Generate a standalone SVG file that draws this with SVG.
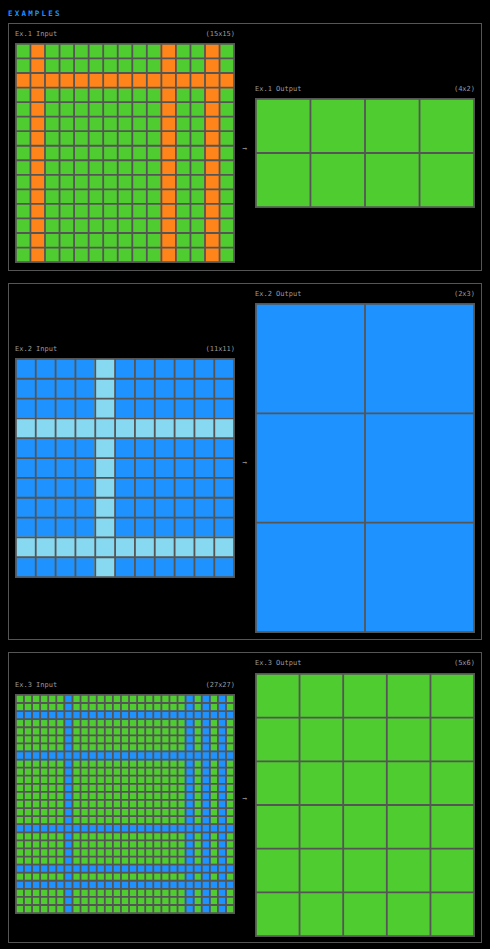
<svg xmlns="http://www.w3.org/2000/svg" width="490" height="949" viewBox="0 0 490 949">
<style>
.panel{fill:none;stroke:#555;stroke-width:1}
.lbl{font-family:"DejaVu Sans Mono","Liberation Mono",monospace;font-size:7px;fill:#9a9a9a}
.r{text-anchor:end}
.title{font-family:"DejaVu Sans Mono","Liberation Mono",monospace;font-size:7.5px;font-weight:bold;fill:#1E93FF;letter-spacing:2.2px}
.arrow{font-family:"DejaVu Sans Mono","Liberation Mono",monospace;font-size:8px;fill:#999;text-anchor:middle}
.gl{stroke:#555;fill:none}
.G{fill:#4FCC30}.O{fill:#FF851B}.B{fill:#1E93FF}.L{fill:#87D8F1}
</style>
<rect width="490" height="949" fill="#000"/>
<text class="title" x="8" y="15.7">EXAMPLES</text>

<g id="panel1">
<rect class="panel" x="8.5" y="23.5" width="473" height="247"/>
<g id="ex1-input">
<text class="lbl" x="15" y="36">Ex.1 Input</text>
<text class="lbl r" x="235" y="36">(15x15)</text>
<rect class="G" x="15" y="43" width="220" height="220"/>
<rect class="O" x="29.547" y="43" width="16.347" height="220"/>
<rect class="O" x="160.467" y="43" width="16.347" height="220"/>
<rect class="O" x="204.107" y="43" width="16.347" height="220"/>
<rect class="O" x="15" y="72.093" width="220" height="16.347"/>
<line class="gl" x1="15" y1="153" x2="235" y2="153" stroke-width="220" stroke-dasharray="1.8 12.7467"/>
<line class="gl" x1="125" y1="43" x2="125" y2="263" stroke-width="220" stroke-dasharray="1.8 12.7467"/>
</g>
<g id="ex1-output">
<text class="lbl" x="255" y="91">Ex.1 Output</text>
<text class="lbl r" x="475" y="91">(4x2)</text>
<rect class="G" x="255" y="98" width="220" height="110"/>
<line class="gl" x1="255" y1="153" x2="475" y2="153" stroke-width="110" stroke-dasharray="1.8 52.75"/>
<line class="gl" x1="365" y1="98" x2="365" y2="208" stroke-width="220" stroke-dasharray="1.8 52.3"/>
</g>
</g>

<g id="panel2">
<rect class="panel" x="8.5" y="283.5" width="473" height="356"/>
<g id="ex2-input">
<text class="lbl" x="15" y="351">Ex.2 Input</text>
<text class="lbl r" x="235" y="351">(11x11)</text>
<rect class="B" x="15" y="358" width="220" height="220"/>
<rect class="L" x="94.345" y="358" width="21.636" height="220"/>
<rect class="L" x="15" y="417.509" width="220" height="21.636"/>
<rect class="L" x="15" y="536.527" width="220" height="21.636"/>
<line class="gl" x1="15" y1="468" x2="235" y2="468" stroke-width="220" stroke-dasharray="1.8 18.0364"/>
<line class="gl" x1="125" y1="358" x2="125" y2="578" stroke-width="220" stroke-dasharray="1.8 18.0364"/>
</g>
<g id="ex2-output">
<text class="lbl" x="255" y="296">Ex.2 Output</text>
<text class="lbl r" x="475" y="296">(2x3)</text>
<rect class="B" x="255" y="303" width="220" height="330"/>
<line class="gl" x1="255" y1="468" x2="475" y2="468" stroke-width="330" stroke-dasharray="1.8 107.3"/>
<line class="gl" x1="365" y1="303" x2="365" y2="633" stroke-width="220" stroke-dasharray="1.8 107.6"/>
</g>
</g>

<g id="panel3">
<rect class="panel" x="8.5" y="652.5" width="473" height="290"/>
<g id="ex3-input">
<text class="lbl" x="15" y="687">Ex.3 Input</text>
<text class="lbl r" x="235" y="687">(27x27)</text>
<rect class="G" x="15" y="694" width="220" height="220"/>
<rect class="B" x="63.489" y="694" width="9.881" height="220"/>
<rect class="B" x="184.711" y="694" width="9.881" height="220"/>
<rect class="B" x="200.874" y="694" width="9.881" height="220"/>
<rect class="B" x="217.037" y="694" width="9.881" height="220"/>
<rect class="B" x="15" y="710.163" width="220" height="9.881"/>
<rect class="B" x="15" y="750.570" width="220" height="9.881"/>
<rect class="B" x="15" y="823.304" width="220" height="9.881"/>
<rect class="B" x="15" y="863.711" width="220" height="9.881"/>
<rect class="B" x="15" y="879.874" width="220" height="9.881"/>
<line class="gl" x1="15" y1="804" x2="235" y2="804" stroke-width="220" stroke-dasharray="1.8 6.28148"/>
<line class="gl" x1="125" y1="694" x2="125" y2="914" stroke-width="220" stroke-dasharray="1.8 6.28148"/>
</g>
<g id="ex3-output">
<text class="lbl" x="255" y="665">Ex.3 Output</text>
<text class="lbl r" x="475" y="665">(5x6)</text>
<rect class="G" x="255" y="673" width="220" height="264"/>
<line class="gl" x1="255" y1="805" x2="475" y2="805" stroke-width="264" stroke-dasharray="1.8 41.84"/>
<line class="gl" x1="365" y1="673" x2="365" y2="937" stroke-width="220" stroke-dasharray="1.8 41.9"/>
</g>
</g>

<g id="connectors">
<text class="arrow" x="245" y="150.5">→</text>
<text class="arrow" x="245" y="464.5">→</text>
<text class="arrow" x="245" y="801">→</text>
</g>
</svg>
